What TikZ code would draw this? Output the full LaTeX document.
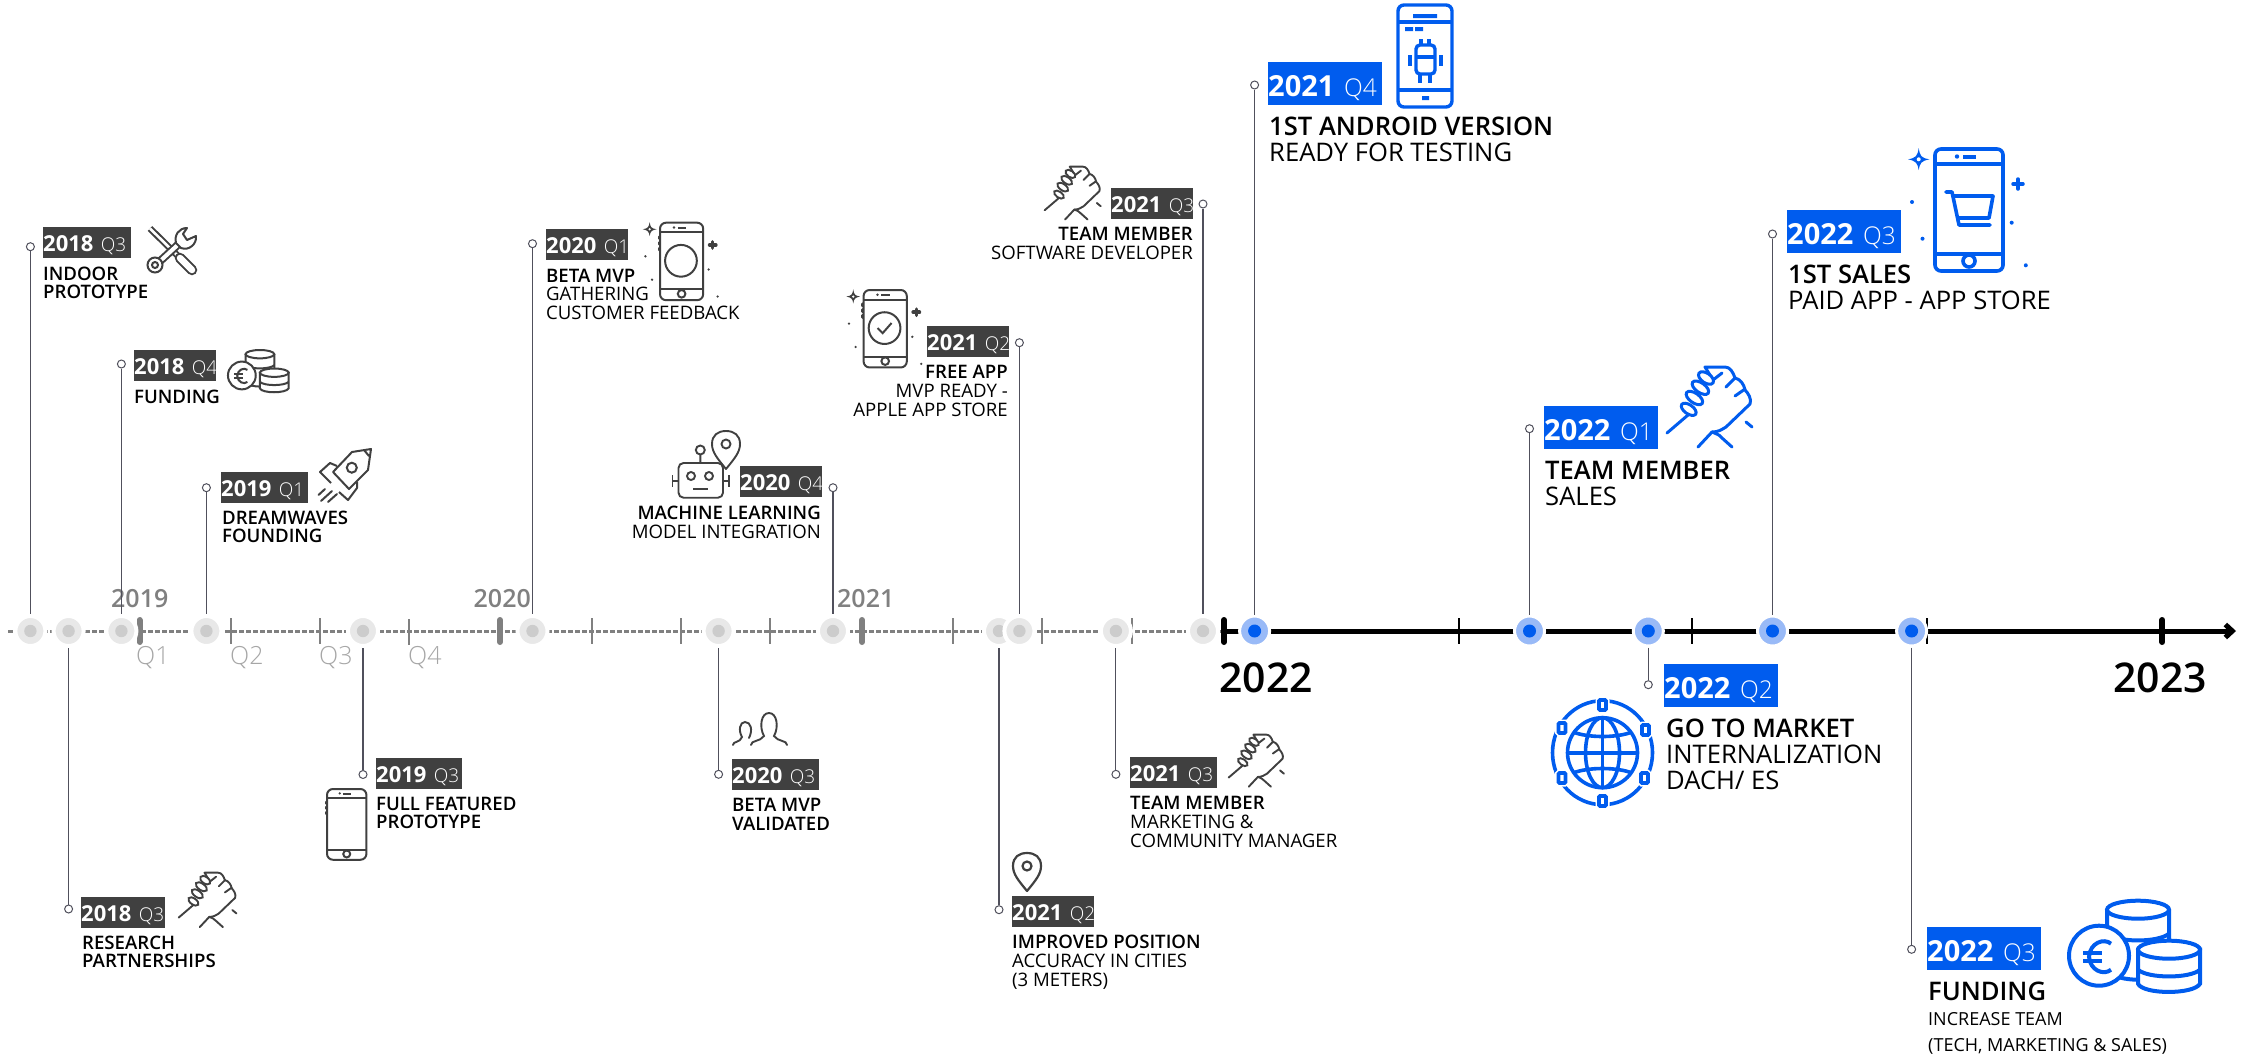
\documentclass[tikz,border=0pt]{standalone}
\usepackage{fontspec}
\setmainfont{Open Sans}
\newfontfamily\lightface{Open Sans Light}
\newfontfamily\semiface{Open Sans Semibold}
\usetikzlibrary{arrows.meta,calc}
\definecolor{boxdark}{HTML}{404040}
\definecolor{brandblue}{HTML}{005CEE}
\definecolor{haloblue}{HTML}{99BAF7}
\definecolor{halogray}{HTML}{E8E8E8}
\definecolor{coregray}{HTML}{CCCCCC}
\definecolor{axisgray}{HTML}{808080}
\definecolor{quartgray}{HTML}{A6A6A6}
\definecolor{stemgray}{HTML}{50505C}
\newcommand{\quartdark}[1]{{\fontsize{19}{19}\mdseries\lightface #1}}
\newcommand{\quartblue}[1]{{\fontsize{24.5}{24.5}\mdseries\lightface #1}}
\tikzset{
  datedark/.style={anchor=north west,fill=boxdark,text=white,inner sep=0pt,
                   text width=87pt,align=left,minimum height=31pt,
                   text height=18.5pt,text depth=0pt,
                   font=\fontsize{22}{22}\bfseries},
  dateblue/.style={anchor=north west,fill=brandblue,text=white,inner sep=0pt,
                   text width=114pt,align=left,minimum height=43pt,
                   text height=25pt,text depth=0pt,
                   font=\fontsize{29}{29}\bfseries},
  cardsmall/.style={anchor=north west,inner sep=0pt,align=left,
                    font=\fontsize{18.6}{18.8}\selectfont},
  cardbig/.style={anchor=north west,inner sep=0pt,align=left,
                  font=\fontsize{25.6}{25.8}\selectfont},
  cardright/.style={cardsmall,anchor=north east,align=right},
  stemdot/.style={circle,draw=stemgray,fill=white,line width=1pt,
                  inner sep=0pt,minimum size=8pt},
  stemline/.style={stemgray,line width=1.1pt},
  pointgray/.style={circle,draw=white,fill=halogray,line width=4pt,inner sep=0pt,
                    minimum size=30pt,path picture={
                      \fill[coregray] (path picture bounding box.center) circle (6.2);}},
  pointblue/.style={circle,draw=white,fill=haloblue,line width=3pt,inner sep=0pt,
                    minimum size=30pt,path picture={
                      \fill[brandblue] (path picture bounding box.center) circle (6.5);}},
  yearlabel/.style={anchor=west,inner sep=0pt,text=axisgray,font=\fontsize{25}{25}\semiface},
  quartlabel/.style={anchor=west,inner sep=0pt,text=quartgray,font=\fontsize{25}{25}\lightface},
  yearbig/.style={anchor=west,inner sep=0pt,text=black,font=\fontsize{41}{41}\semiface},
  % icons are drawn in the pixels of their largest copy
  pics/phonebody/.style={code={
    \draw[rounded corners=6pt] (0,0) rectangle (68,122);
    \draw (0,15) -- (68,15) (0,105) -- (68,105);
    \draw[fill=white] (34,112) circle (6);
    \fill (22,7.5) circle (2.2);
    \draw (28,8) -- (41,8);
    \draw[line cap=round,line width=3pt] (-1,22) -- (-1,25) (-1,31) -- (-1,34) (-1,40) -- (-1,43);
  }},
  pics/phonesparks/.style={code={
    \fill (-16.3,-1) .. controls (-15,7) and (-14,9) .. (-5.5,10.3)
       .. controls (-14,12) and (-15,14) .. (-16.3,21)
       .. controls (-17.5,14) and (-19,12) .. (-27,10.3)
       .. controls (-19,9) and (-17.5,7) .. cycle;
    \fill[white] (-16.3,10.3) circle (2);
    \draw[line width=3.5pt,line cap=round] (83,30) -- (83,40) (78,35) -- (88,35);
    \fill (-23,53) circle (2) (-12.5,89.7) circle (2) (76.7,73.7) circle (2) (90.8,116.3) circle (2);
  }},
  pics/cartmark/.style={code={
    \draw[line join=round,line cap=round] (11,43) -- (17,43) -- (24,76) -- (55,76)
      (18.5,47) -- (58,47) -- (54,69) -- (23,69);
  }},
  pics/ringmark/.style={code={\draw (33,60) circle (25);}},
  pics/checkmark/.style={code={
    \draw (33,60) circle (25);
    \draw (22,60) -- (30,68) -- (44,52);
  }},
  pics/androidphone/.style={code={
    \draw[rounded corners=6pt] (0,0) rectangle (54,102);
    \draw (0,17) -- (54,17) (0,85) -- (54,85);
    \fill (15,9) rectangle (39,13) (7,22) rectangle (15,26) (17,22) rectangle (25,26) (24,91) rectangle (31,95);
    \draw[rounded corners=4pt] (18,40) rectangle (37,69);
    \draw (18,52) -- (37,52);
    \draw (12,50) -- (12,61) (43,50) -- (43,61);
    \draw (22,69) -- (22,78) (32,69) -- (32,78) (23,34) -- (23,40) (31,34) -- (31,40);
  }},
  pics/handshake/.style={code={
    \draw[line cap=round,line join=round] (1,67) -- (22,49);
    \draw[line cap=round,line join=round] (32,81) -- (46,66) .. controls (52,66) and (55,64) .. (60,61)
      -- (84,38) .. controls (86,33) and (82,27) .. (79,24) .. controls (78,18) and (74,13) .. (69,12)
      .. controls (67,6) and (64,1) .. (59,1) -- (39,1) -- (47,14) -- (56,7);
    \draw[fill=white,rotate around={-35:(22.7,43.3)}] (22.7,43.3) ellipse (8.5 and 4.5);
    \draw[fill=white,rotate around={-35:(28.4,32)}] (28.4,32) ellipse (9.5 and 4.8);
    \draw[fill=white,rotate around={-35:(34.4,21.7)}] (34.4,21.7) ellipse (9.5 and 4.8);
    \draw[fill=white,rotate around={-35:(40,12)}] (40,12) ellipse (8.5 and 4.8);
    \draw[line cap=round] (46,66) .. controls (50,68) and (53,68) .. (56,72) -- (66,81);
    \draw[line cap=round] (60,21) -- (69,12) (69,30) -- (79,23) (80,56) -- (86,61);
  }},
  pics/coinstack/.style={code={
    \draw[fill=white] (39,9) -- (39,70) .. controls (50,82) and (90,82) .. (101,70) -- (101,9);
    \draw[fill=white] (70,9) ellipse (31 and 9);
    \draw (39,33) .. controls (50,42) and (90,42) .. (101,33);
    \draw[fill=white] (70,49) -- (70,83) .. controls (75,94) and (126,94) .. (132,83) -- (132,49) -- cycle;
    \draw[fill=white] (101,49) ellipse (31 and 9);
    \draw (70,69) .. controls (80,78) and (122,78) .. (132,69);
    \draw[fill=white] (31,55) circle (30);
    \draw (43,43) .. controls (36,37) and (22,42) .. (21,56) .. controls (22,70) and (36,75) .. (43,69);
    \draw (15,52) -- (34,52) (15,60) -- (34,60);
  }},
  pics/toolscross/.style={code={
    \draw[line width=2pt,double=white,double distance=2.6pt] (4,3.5) -- (34,33);
    \draw[line width=2pt,double=white,double distance=6.5pt,line cap=round] (34,33) -- (46,45);
    \draw[line width=2pt,double=white,double distance=4pt] (12,38) -- (36,16);
    \draw[fill=white,line width=2pt] (9,40) circle (7.5);
    \draw[line width=2pt] (9,40) circle (3);
    \draw[fill=white,line join=round,line width=2pt] (30,18) .. controls (28,10) and (33,3) .. (41,3) -- (37,9)
       -- (41,15) -- (50,11) .. controls (51,19) and (43,26) .. (35,23) -- cycle;
  }},
  pics/rocketup/.style={code={
    \draw[line join=round] (53,1) -- (34,4) -- (15,24) -- (31,41) -- (50,22) -- cycle;
    \draw (33.8,19.7) circle (5);
    \draw[line join=round] (19,18) -- (12,15) -- (2,24) -- (13,35);
    \draw[line join=round] (39,34) -- (39,40) -- (30,52) -- (21,44);
    \draw[line cap=round] (46,2) -- (51,8);
    \draw[line cap=round] (0.5,47) -- (7,41) (3,53) -- (14,43) (10,54) -- (19,46);
  }},
  pics/mappin/.style={code={
    \draw[line join=round] (15,39) .. controls (6,28) and (1,22) .. (1,14) .. controls (1,5) and (7,1) .. (15,1)
       .. controls (23,1) and (29,5) .. (29,14) .. controls (29,22) and (24,28) .. (15,39) -- cycle;
    \draw (15,14) circle (4.5);
  }},
  pics/robothead/.style={code={
    \draw[rounded corners=5pt] (7.5,32) rectangle (52,66.7);
    \draw (20,45) circle (4) (38,45) circle (4);
    \draw (22,58) -- (37,58);
    \draw (1.5,50) -- (7.5,50) (1.5,44) -- (1.5,56) (52,50) -- (58,50) (58,44) -- (58,56);
    \draw (29.3,19) circle (4.5) (29.3,23.5) -- (29.3,32);
  }},
  pics/twopeople/.style={code={
    \draw[line cap=round] (19,33) .. controls (19,28) and (28,30) .. (32,24) .. controls (27,15) and (29,1) .. (37,1)
       .. controls (45,1) and (47,15) .. (42,24) .. controls (46,30) and (55,28) .. (55,33);
    \draw[line cap=round] (1,33) .. controls (1,29) and (8,31) .. (10,25) .. controls (6,18) and (8,10) .. (13,10)
       .. controls (19,10) and (21,18) .. (17,26);
  }},
  ringsquare/.style={fill=white,rounded corners=1pt,preaction={draw=white,line width=7pt}},
  pics/globering/.style={code={
    \draw (49.5,52.7) circle (35);
    \draw (49.5,52.7) ellipse (17 and 35);
    \draw (49.5,17.7) -- (49.5,87.7) (14.5,52.7) -- (84.5,52.7);
    \draw (20,32) .. controls (35,38) and (64,38) .. (79,32);
    \draw (20,73) .. controls (35,67) and (64,67) .. (79,73);
    \draw (49.5,52.7) ellipse (50 and 52);
    \draw[ringsquare] (46,0) rectangle (53,10);
    \draw[ringsquare] (46,96) rectangle (53,106);
    \draw[ringsquare] (5.5,23) rectangle (12.5,33);
    \draw[ringsquare] (89,25) rectangle (96,35);
    \draw[ringsquare] (5.5,73) rectangle (12.5,83);
    \draw[ringsquare] (88,73) rectangle (95,83);
  }}
}
\begin{document}
\begin{tikzpicture}[x=1pt,y=-1pt]
  \useasboundingbox (0,0) rectangle (2249,1055);
  % axis
  \coordinate (axisstart) at (8,631);
  \coordinate (axismid) at (1224,631);
  \coordinate (axisend) at (2236,631);
  \draw[axisgray,line width=3pt,dash pattern=on 4.5pt off 2.5pt] (axisstart) -- (axismid);
  \draw[black,line width=5pt,-{Straight Barb[length=7pt,width=13pt]}] (axismid) -- (axisend);
  \draw[axisgray,line width=2pt] (231,618) -- (231,644) (320,618) -- (320,644) (409,619) -- (409,645)
    (592,618) -- (592,644) (681,618) -- (681,644) (770,618) -- (770,644) (953,618) -- (953,644)
    (1042,618) -- (1042,644) (1132,618) -- (1132,644);
  \draw[axisgray,line width=6pt,line cap=round] (139.5,620) -- (139.5,642) (500,620) -- (500,642) (862,620) -- (862,642);
  \draw[black,line width=2pt] (1459,618) -- (1459,644) (1692,618) -- (1692,644) (1926.5,618) -- (1926.5,644);
  \draw[black,line width=6pt,line cap=round] (1224,620) -- (1224,642) (2162.4,620) -- (2162.4,642);

  \node[yearlabel] (yearA) at (111,599) {2019};
  \node[yearlabel] (yearB) at (473.5,599) {2020};
  \node[yearlabel] (yearC) at (837,599) {2021};
  \node[quartlabel] (quartA) at (136,658) {Q1};
  \node[quartlabel] (quartB) at (230,658) {Q2};
  \node[quartlabel] (quartC) at (319,658) {Q3};
  \node[quartlabel] (quartD) at (408,658) {Q4};
  \node[yearbig] (yearD) at (1219,678) {2022};
  \node[yearbig] (yearE) at (2113,678) {2023};

  % points on the axis
  \node[pointgray] (pA) at (30.4,631) {};
  \node[pointgray] (pB) at (68.6,631) {};
  \node[pointgray] (pC) at (121.4,631) {};
  \node[pointgray] (pD) at (206.4,631) {};
  \node[pointgray] (pE) at (363,631) {};
  \node[pointgray] (pF) at (532.5,631) {};
  \node[pointgray] (pG) at (718.6,631) {};
  \node[pointgray] (pH) at (833,631) {};
  \node[pointgray] (pI) at (999,631) {};
  \node[pointgray] (pJ) at (1019.4,631) {};
  \node[pointgray] (pK) at (1115.9,631) {};
  \node[pointgray] (pL) at (1203,631) {};
  \node[pointblue] (pM) at (1254.6,631) {};
  \node[pointblue] (pN) at (1529.5,631) {};
  \node[pointblue] (pO) at (1648.3,631) {};
  \node[pointblue] (pP) at (1772.5,631) {};
  \node[pointblue] (pQ) at (1911.6,631) {};

  % cards above and below the axis
  \node[stemdot] (dA) at (30.4,246.7) {};
  \draw[stemline] (dA) -- (pA);
  \node[datedark,text width=88pt] (dateA) at (43,227) {2018~\quartdark{Q3}};
  \node[cardsmall] (textA) at (43,266.5) {\semiface INDOOR\\\semiface PROTOTYPE};
  \pic[boxdark] at (146,225) {toolscross};

  \node[stemdot] (dC) at (121.4,364) {};
  \draw[stemline] (dC) -- (pC);
  \node[datedark,text width=82pt] (dateC) at (134,350) {2018~\quartdark{Q4}};
  \node[cardsmall] (textC) at (134,390) {\semiface FUNDING};
  \pic[scale=0.463,line width=2pt,boxdark] at (227.5,350) {coinstack};

  \node[stemdot] (dD) at (206.4,487.7) {};
  \draw[stemline] (dD) -- (pD);
  \node[datedark] (dateD) at (221,472) {2019~\quartdark{Q1}};
  \node[cardsmall] (textD) at (222,510.5) {\semiface DREAMWAVES\\\semiface FOUNDING};
  \pic[line width=2pt,boxdark] at (318,448) {rocketup};

  \node[stemdot] (dF) at (532.5,243.7) {};
  \draw[stemline] (dF) -- (pF);
  \node[datedark,text width=82pt] (dateF) at (546,229) {2020~\quartdark{Q1}};
  \node[cardsmall] (textF) at (546,268.5) {\semiface BETA MVP\\GATHERING\\CUSTOMER FEEDBACK};
  \pic[scale=0.635,line width=2pt,boxdark] at (660,222.7) {phonebody};
  \pic[scale=0.635,line width=2pt,boxdark] at (660,222.7) {phonesparks};
  \pic[scale=0.635,line width=2pt,boxdark] at (660,222.7) {ringmark};

  \node[stemdot] (dH) at (833,487.7) {};
  \draw[stemline] (dH) -- (pH);
  \node[datedark,text width=82pt] (dateH) at (740,466) {2020~\quartdark{Q4}};
  \node[cardright] (textH) at (821,505.7) {\semiface MACHINE LEARNING\\MODEL INTEGRATION};
  \pic[line width=1.9pt,boxdark] at (671,431) {robothead};
  \pic[line width=1.9pt,boxdark] at (711,430) {mappin};

  \node[stemdot] (dJ) at (1019.4,342.7) {};
  \draw[stemline] (dJ) -- (pJ);
  \node[datedark,text width=82pt] (dateJ) at (927,326) {2021~\quartdark{Q2}};
  \node[cardright] (textJ) at (1008,365.4) {\semiface FREE APP\\MVP READY -\\APPLE APP STORE};
  \pic[scale=0.635,line width=2pt,boxdark] at (863.6,290) {phonebody};
  \pic[scale=0.635,line width=2pt,boxdark] at (863.6,290) {phonesparks};
  \pic[scale=0.635,line width=2pt,boxdark] at (863.6,290) {checkmark};

  \node[stemdot] (dL) at (1203,204) {};
  \draw[stemline] (dL) -- (pL);
  \node[datedark,text width=82pt] (dateL) at (1111,188) {2021~\quartdark{Q3}};
  \node[cardright] (textL) at (1193,227.4) {\semiface TEAM MEMBER\\SOFTWARE DEVELOPER};
  \pic[scale=0.66,line width=1.9pt,boxdark] at (1044,166) {handshake};

  \node[stemdot] (dB) at (68.6,909) {};
  \draw[stemline] (pB) -- (dB);
  \node[datedark,text width=84pt] (dateB) at (81,897) {2018~\quartdark{Q3}};
  \node[cardsmall] (textB) at (82,935.5) {\semiface RESEARCH\\\semiface PARTNERSHIPS};
  \pic[scale=0.68,line width=1.9pt,boxdark] at (178,872) {handshake};

  \node[stemdot] (dE) at (363,774.5) {};
  \draw[stemline] (pE) -- (dE);
  \node[datedark,text width=86pt] (dateE) at (376,758) {2019~\quartdark{Q3}};
  \node[cardsmall] (textE) at (376,796.5) {\semiface FULL FEATURED\\\semiface PROTOTYPE};
  \pic[scale=0.58,line width=2pt,boxdark] at (327,789) {phonebody};

  \node[stemdot] (dG) at (718.6,774.3) {};
  \draw[stemline] (pG) -- (dG);
  \node[datedark] (dateG) at (732,759) {2020~\quartdark{Q3}};
  \node[cardsmall] (textG) at (732,798.4) {\semiface BETA MVP\\\semiface VALIDATED};
  \pic[line width=1.9pt,boxdark] at (732,712) {twopeople};

  \node[stemdot] (dI) at (999,909.7) {};
  \draw[stemline] (pI) -- (dI);
  \node[datedark,text width=82pt] (dateI) at (1012,896) {2021~\quartdark{Q2}};
  \node[cardsmall] (textI) at (1012,935) {\semiface IMPROVED POSITION\\ACCURACY IN CITIES\\(3 METERS)};
  \pic[line width=2.2pt,boxdark] at (1012,852) {mappin};

  \node[stemdot] (dK) at (1115.9,774.3) {};
  \draw[stemline] (pK) -- (dK);
  \node[datedark] (dateK) at (1130,757) {2021~\quartdark{Q3}};
  \node[cardsmall] (textK) at (1130,796) {\semiface TEAM MEMBER\\MARKETING \&\\COMMUNITY MANAGER};
  \pic[scale=0.65,line width=1.9pt,boxdark] at (1228,734) {handshake};

  % the blue cards
  \node[stemdot] (dM) at (1254.6,85) {};
  \draw[stemline] (dM) -- (pM);
  \node[dateblue] (dateM) at (1268,62) {2021~\quartblue{Q4}};
  \node[cardbig] (textM) at (1269,117) {\semiface 1ST ANDROID VERSION\\READY FOR TESTING};
  \pic[line width=3.4pt,brandblue] at (1398,5) {androidphone};

  \node[stemdot] (dN) at (1529.5,428.7) {};
  \draw[stemline] (dN) -- (pN);
  \node[dateblue] (dateN) at (1544,406) {2022~\quartblue{Q1}};
  \node[cardbig] (textN) at (1545,461) {\semiface TEAM MEMBER\\SALES};
  \pic[line width=3pt,brandblue] at (1666,366) {handshake};

  \node[stemdot] (dO) at (1648.3,684.7) {};
  \draw[stemline] (pO) -- (dO);
  \node[dateblue] (dateO) at (1664,664) {2022~\quartblue{Q2}};
  \node[cardbig] (textO) at (1666,718.7) {\semiface GO TO MARKET\\INTERNALIZATION\\DACH/ ES};
  \pic[line width=3.6pt,brandblue] at (1553,700) {globering};

  \node[stemdot] (dP) at (1772.5,234) {};
  \draw[stemline] (dP) -- (pP);
  \node[dateblue] (dateP) at (1787,210) {2022~\quartblue{Q3}};
  \node[cardbig] (textP) at (1788,265) {\semiface 1ST SALES\\PAID APP - APP STORE};
  \pic[line width=3.6pt,brandblue] at (1935,149) {phonebody};
  \pic[line width=3.6pt,brandblue] at (1935,149) {phonesparks};
  \pic[line width=3.6pt,brandblue] at (1935,149) {cartmark};

  \node[stemdot] (dQ) at (1911.6,949.3) {};
  \draw[stemline] (pQ) -- (dQ);
  \node[dateblue] (dateQ) at (1927,927) {2022~\quartblue{Q3}};
  \node[cardbig] (textQ) at (1928,982) {\semiface FUNDING};
  \node[cardsmall,font=\fontsize{18}{26.5}\selectfont] (noteQ) at (1928,1012) {INCREASE TEAM\\(TECH, MARKETING \& SALES)};
  \pic[line width=4pt,brandblue] at (2068,900.7) {coinstack};
\end{tikzpicture}
\end{document}
